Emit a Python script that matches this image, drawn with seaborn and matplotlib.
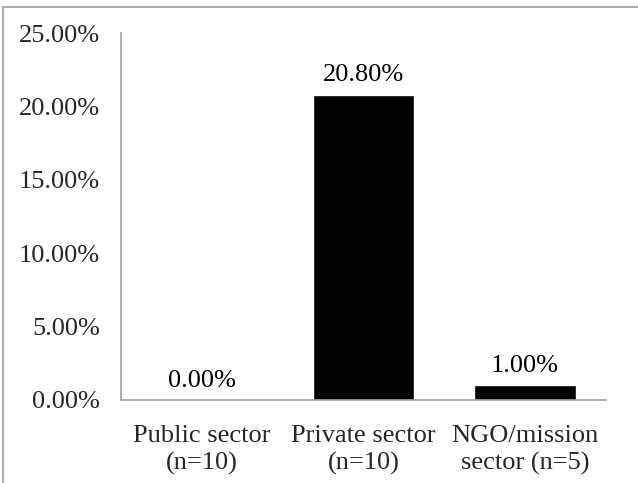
import matplotlib
matplotlib.use("Agg")
import matplotlib.pyplot as plt
import seaborn as sns
import pandas as pd
from matplotlib.lines import Line2D

categories = ["Public sector\n(n=10)", "Private sector\n(n=10)", "NGO/mission\nsector (n=5)"]
values = [0.00, 20.80, 1.00]
yticks = [0, 5, 10, 15, 20, 25]

sns.set_theme(style="white")
plt.rcParams['font.family'] = ['Liberation Serif', 'DejaVu Serif']

df = pd.DataFrame({"cat": categories, "val": values})

FS = 19
fig = plt.figure(figsize=(6.38, 4.83), dpi=100)
ax = fig.add_axes([121/638, 1 - 400/483, (606-121)/638, (400-33)/483])
sns.barplot(data=df, x="cat", y="val", color="black", width=0.63, ax=ax, saturation=1)

ax.set_ylim(0, 25)
ax.set_yticks(yticks)
ax.set_yticklabels([f"{v:.2f}%" for v in yticks], fontsize=FS)
ax.set_xticklabels(categories, fontsize=FS, linespacing=1.3)
ax.set_xlabel("")
ax.set_ylabel("")
ax.tick_params(axis='y', length=0, pad=15)
ax.tick_params(axis='x', length=0, pad=18)
for side in ["top", "right"]:
    ax.spines[side].set_visible(False)
for side in ["left", "bottom"]:
    ax.spines[side].set_color("#a0a0a0")
    ax.spines[side].set_linewidth(1.2)

for i, v in enumerate(values):
    ax.annotate(f"{v:.2f}%", (i, v), xytext=(0, 6), textcoords="offset points",
                ha="center", va="bottom", fontsize=FS, color="black")

fig.add_artist(Line2D([3/638, 3/638], [0, 1 - 7/483], transform=fig.transFigure, color="#b0b0b0", lw=1.5))
fig.add_artist(Line2D([3/638, 1], [1 - 7/483, 1 - 7/483], transform=fig.transFigure, color="#b0b0b0", lw=1.5))

fig.savefig("out.png", dpi=100)
